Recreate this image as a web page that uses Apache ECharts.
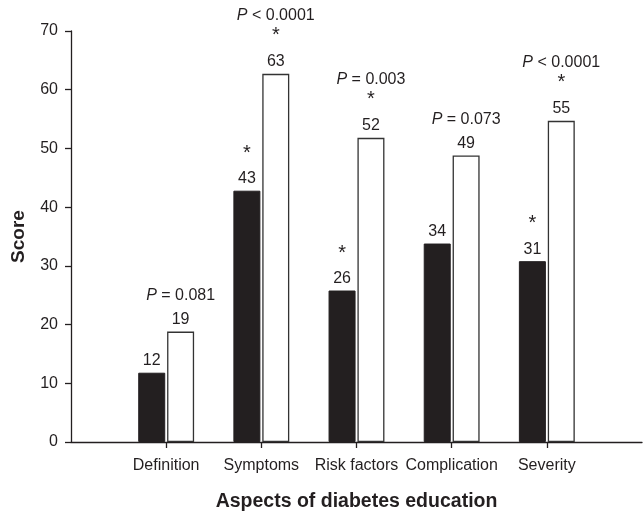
<!DOCTYPE html>
<html><head><meta charset="utf-8">
<script src="https://cdn.jsdelivr.net/npm/echarts@6/dist/echarts.min.js"></script>
<style>html,body{margin:0;padding:0;background:#fff}#c{width:644px;height:512px}</style>
</head><body><div id="c"></div>
<script>
var categories = ['Definition', 'Symptoms', 'Risk factors', 'Complication', 'Severity'];
var blackValues = [11.8, 42.8, 25.8, 33.8, 30.8];
var whiteValues = [18.8, 62.7, 51.8, 48.8, 54.7];
var blackStars = [false, true, true, false, true];
var whiteStars = [false, true, true, false, true];
var pOps = ['=', '<', '=', '=', '<'];
var pValues = ['0.081', '0.0001', '0.003', '0.073', '0.0001'];
var yTicks = [0, 10, 20, 30, 40, 50, 60, 70];

var cats = [''].concat(categories).concat(['']);
function pad(a){ return [null].concat(a).concat([null]); }
var ink = '#231f20';
var font = '"Liberation Sans", Arial, Helvetica, sans-serif';

var chart = echarts.init(document.getElementById('c'), null, {renderer:'canvas'});
chart.setOption({
  animation: false,
  grid: {left: 71, right: 2, top: 31, bottom: 70, containLabel: false, outerBoundsMode: 'none'},
  xAxis: {
    type: 'category', data: cats, boundaryGap: false,
    axisLine: {lineStyle: {color: ink, width: 1.3}},
    axisTick: {length: 6, lineStyle: {color: ink, width: 1.3},
      interval: function(i){ return i > 0 && i < cats.length - 1; }},
    axisLabel: {interval: 0, margin: 16, color: ink, fontSize: 16, fontFamily: font},
    name: 'Aspects of diabetes education', nameLocation: 'middle', nameGap: 50,
    nameTextStyle: {fontSize: 19.5, fontWeight: 'bold', color: ink, fontFamily: font}
  },
  yAxis: {
    type: 'value', min: yTicks[0], max: yTicks[yTicks.length-1], interval: 10,
    axisLine: {show: true, lineStyle: {color: ink, width: 1.3}},
    axisTick: {show: true, length: 6, lineStyle: {color: ink, width: 1.3}},
    splitLine: {show: false},
    axisLabel: {margin: 13, color: ink, fontSize: 16, fontFamily: font},
    name: 'Score', nameLocation: 'middle', nameGap: 43, nameRotate: 90,
    nameTextStyle: {fontSize: 19, fontWeight: 'bold', color: ink, fontFamily: font}
  },
  series: [
    {
      type: 'bar', data: pad(blackValues), barWidth: 27, barGap: '7%',
      itemStyle: {color: ink, borderColor: ink, borderWidth: 1},
      label: {
        show: true, position: 'top', distance: 3, color: ink, fontFamily: font,
        formatter: function(p){
          var i = p.dataIndex - 1;
          var s = '';
          if (blackStars[i]) s += '{s|*}\n{g| }\n';
          return s + '{n|' + Math.round(p.value) + '}';
        },
        rich: {
          n: {fontSize: 16, lineHeight: 18, color: ink, fontFamily: font},
          g: {fontSize: 2, lineHeight: 9},
          s: {fontSize: 20, lineHeight: 15, color: ink, fontFamily: font}
        }
      }
    },
    {
      type: 'bar', data: pad(whiteValues), barWidth: 27,
      itemStyle: {color: '#ffffff', borderColor: '#333', borderWidth: 1.3},
      label: {
        show: true, position: 'top', distance: 3, color: ink, fontFamily: font,
        formatter: function(p){
          var i = p.dataIndex - 1;
          var star = whiteStars[i];
          var k = star ? '' : '2';
          var s = '{pi' + k + '|P}{p' + k + '| ' + pOps[i] + ' ' + pValues[i] + '}\n';
          if (star) s += '{s|*}\n{g| }\n';
          return s + '{n|' + Math.round(p.value) + '}';
        },
        rich: {
          n: {fontSize: 16, lineHeight: 18, color: ink, fontFamily: font},
          g: {fontSize: 2, lineHeight: 10},
          s: {fontSize: 20, lineHeight: 15, color: ink, fontFamily: font},
          pi: {fontSize: 16, lineHeight: 24, fontStyle: 'italic', color: ink, fontFamily: font},
          p: {fontSize: 16, lineHeight: 24, color: ink, fontFamily: font},
          pi2: {fontSize: 16, lineHeight: 24, fontStyle: 'italic', color: ink, fontFamily: font, padding: [0,0,6,0]},
          p2: {fontSize: 16, lineHeight: 24, color: ink, fontFamily: font, padding: [0,0,6,0]}
        }
      }
    }
  ]
});
</script></body></html>
